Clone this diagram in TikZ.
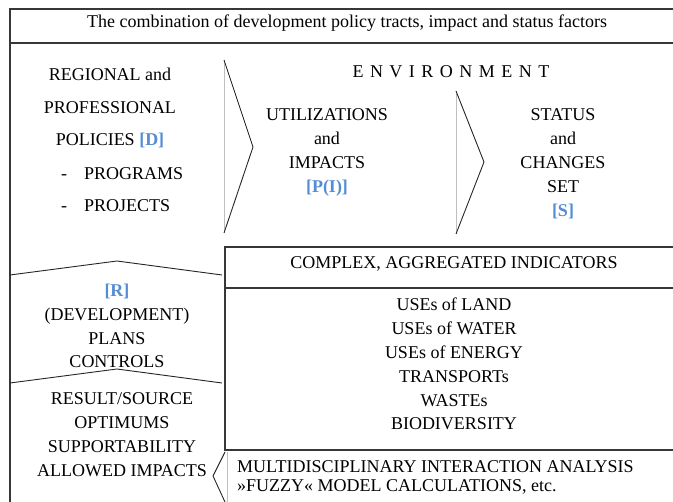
\documentclass[tikz,border=0pt]{standalone}
\usepackage{fontspec}
\setmainfont{Liberation Serif}
\usetikzlibrary{positioning}
\definecolor{tagBlue}{RGB}{84,141,212}
\definecolor{lineGray}{RGB}{55,55,55}
\newcommand{\tagref}[1]{\textcolor{tagBlue}{\textbf{#1}}}

\begin{document}
\begin{tikzpicture}[
    x=1pt, y=-1pt,
    every node/.style={font=\fontsize{18}{24}\selectfont, inner sep=0pt, align=center, anchor=base},
    frame/.style={draw=lineGray, line width=1.2pt},
    chev/.style={draw=black!85, line width=0.9pt},
    faint/.style={draw=black!25, line width=0.8pt},
    wide/.style={font=\fontsize{18}{32.7}\selectfont},
    tight/.style={font=\fontsize{18}{19}\selectfont, align=left, anchor=base west},
]
\useasboundingbox (0,0) rectangle (673,502);
% FRAME
\draw[frame] (10,502) -- (10,9) -- (673,9);
\draw[frame] (10,43) -- (673,43);
\node (title) at (347,28) {The combination of development policy tracts, impact and status factors};
% POLICIES
\node[wide] (policies) at (110,146) {REGIONAL and\\PROFESSIONAL\\POLICIES \tagref{[D]}};
\node[wide, align=left, anchor=base west] (projects) at (61,212) {-\hspace{17pt}PROGRAMS\\-\hspace{17pt}PROJECTS};
% ENVIRONMENT
\node (env) at (451,78) {\spaceskip=6.5pt E N V I R O N M E N T};
\draw[faint] (224,60) -- (224,233);
\draw[chev] (224,60) -- (253,147) -- (224,233);
\node (impacts) at (327,193) {UTILIZATIONS\\and\\IMPACTS\\\tagref{[P(I)]}};
\draw[faint] (456,91) -- (456,234);
\draw[chev] (456,91) -- (484,162) -- (456,234);
\node (status) at (563,217) {STATUS\\and\\CHANGES\\SET\\\tagref{[S]}};
% INDICATORS
\draw[frame] (673,247) -- (225,247) -- (225,450) -- (673,450);
\draw[frame] (225,288) -- (673,288);
\node (complex) at (454,269) {COMPLEX, AGGREGATED INDICATORS};
\node[font=\fontsize{18}{23.8}\selectfont] (uses) at (454,430) {USEs of LAND\\USEs of WATER\\USEs of ENERGY\\TRANSPORTs\\WASTEs\\BIODIVERSITY};
% PLANS
\draw[chev] (10,275) -- (117,261) -- (222,275);
\node[font=\fontsize{18}{23.7}\selectfont] (plans) at (117,368) {\tagref{[R]}\\(DEVELOPMENT)\\PLANS\\CONTROLS};
\draw[chev] (10,383) -- (117,369) -- (222,383);
\node[font=\fontsize{18}{24.3}\selectfont] (optimums) at (122,477) {RESULT/SOURCE\\OPTIMUMS\\SUPPORTABILITY\\ALLOWED IMPACTS};
% ANALYSIS
\draw[faint] (227,452) -- (227,502);
\draw[chev] (225,452) -- (213,476) -- (225,502);
\node[tight] (analysis) at (237,492) {MULTIDISCIPLINARY INTERACTION ANALYSIS\\»FUZZY« MODEL CALCULATIONS, etc.};
\end{tikzpicture}
\end{document}
